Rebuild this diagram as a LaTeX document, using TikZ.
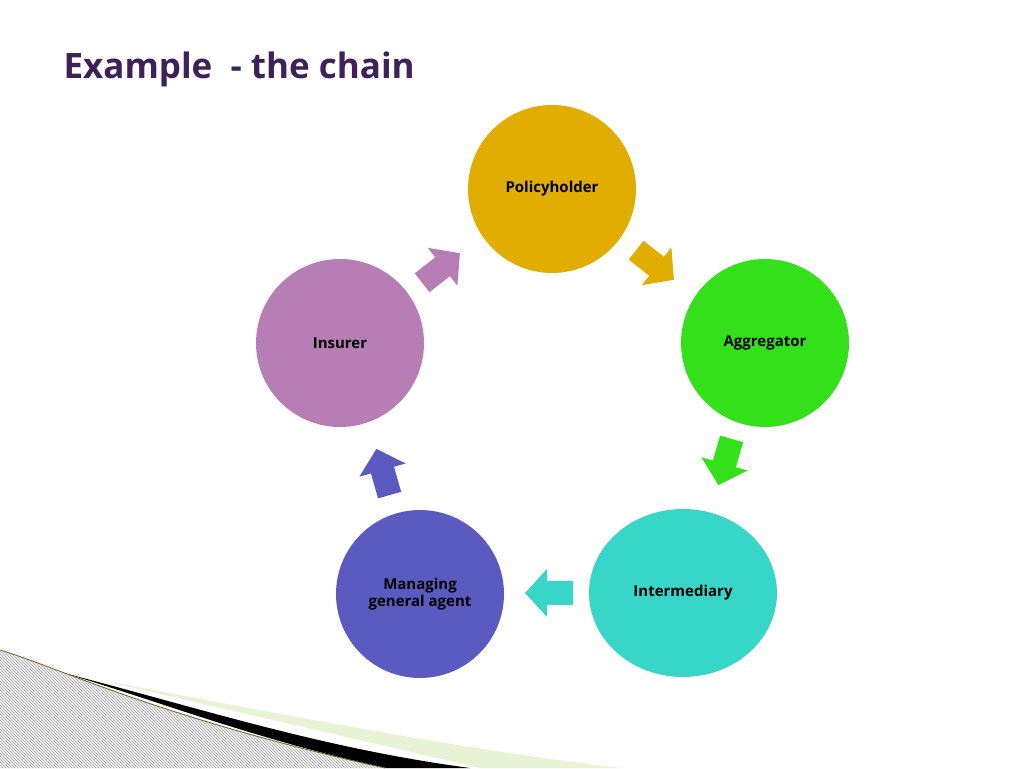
\documentclass[tikz,border=0pt]{standalone}
\usepackage{fontspec}
\setmainfont{Open Sans}
\usetikzlibrary{patterns,shapes.geometric}
\definecolor{ttl}{RGB}{64,32,88}
\definecolor{cPol}{RGB}{224,173,0}
\definecolor{cAgg}{RGB}{52,224,26}
\definecolor{cInt}{RGB}{56,214,200}
\definecolor{cMga}{RGB}{90,90,192}
\definecolor{cIns}{RGB}{182,126,180}
\definecolor{lgreen}{RGB}{232,243,214}
\begin{document}
\begin{tikzpicture}[x=1pt,y=1pt,
  circ/.style={circle,minimum size=168pt,inner sep=0pt,font=\bfseries\fontsize{15}{17}\selectfont,align=center}]
\useasboundingbox (0,0) rectangle (1024,768);
\fill[white] (0,0) rectangle (1024,768);
% decoration
\fill[lgreen] (100,88) .. controls (250,60) and (450,20) .. (620,0) -- (480,0) -- cycle;
\fill[black] (60,96) .. controls (200,60) and (320,20) .. (470,0) -- (385,0) .. controls (250,30) and (150,70) .. (60,96) -- cycle;
\fill[gray!15] (0,118) .. controls (60,100) and (160,50) .. (385,0) -- (0,0) -- cycle;
\fill[pattern=north west lines,pattern color=gray!60] (0,118) .. controls (60,100) and (160,50) .. (385,0) -- (0,0) -- cycle;
\draw[olive!70!black,line width=0.8pt] (0,118) .. controls (60,100) and (160,50) .. (385,0);
% title
\node[anchor=west,text=ttl,font=\bfseries\fontsize{35}{40}\selectfont] (title) at (60,699) {Example\ \ - the chain};
% circles
\node[circ,fill=cPol] (pol) at (552,579) {Policyholder};
\node[circ,fill=cAgg] (agg) at (765,425) {Aggregator};
\node[circ,fill=cInt,shape=ellipse,minimum width=188pt,minimum height=168pt] (int) at (683,175) {Intermediary};
\node[circ,fill=cMga] (mga) at (420,174) {Managing\\general agent};
\node[circ,fill=cIns] (ins) at (340,425) {Insurer};
% arrows
\newcommand{\barr}[4]{\fill[#4,shift={(#1,#2)},rotate=#3] (-24,-12) -- (2,-12) -- (2,-24) -- (24,0) -- (2,24) -- (2,12) -- (-24,12) -- cycle;}
\barr{655}{503}{-38}{cPol}
\barr{725}{306}{-106}{cAgg}
\barr{549}{175}{180}{cInt}
\barr{383}{296}{106}{cMga}
\barr{441}{500}{38}{cIns}
\end{tikzpicture}
\end{document}
